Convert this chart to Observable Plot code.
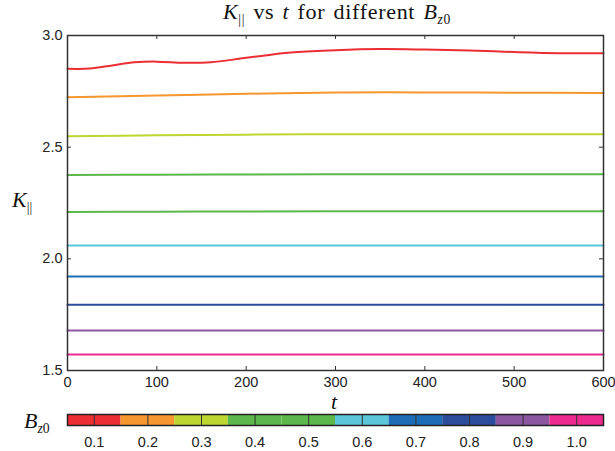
<!DOCTYPE html>
<html><head><meta charset="utf-8">
<script src="https://cdn.jsdelivr.net/npm/d3@7"></script>
<script src="https://cdn.jsdelivr.net/npm/@observablehq/plot@0.6"></script>
<style>
body{margin:0;background:#fff;}
#wrap{position:relative;width:615px;height:451px;overflow:hidden;font-family:"Liberation Sans",Arial,sans-serif;}
#wrap svg{display:block;}
.math{position:absolute;font-family:"Liberation Serif","DejaVu Serif",serif;color:#111;white-space:nowrap;line-height:1;}
.math sub{font-size:62%;vertical-align:-0.35em;line-height:0;}
</style></head><body>
<div id="wrap">
  <div id="main"></div>
  <div id="cbar"></div>
  <div class="math" id="title" style="left:0;width:615px;text-align:center;padding-left:59px;box-sizing:border-box;top:1px;font-size:22px;letter-spacing:0.7px;word-spacing:2px;"><i>K</i><sub>||</sub> vs <i>t</i> for different <i>B</i><sub><i>z</i>0</sub></div>
  <div class="math" style="left:12px;top:189px;font-size:22px;"><i>K</i><sub>||</sub></div>
  <div class="math" style="left:331px;top:391px;font-size:22px;"><i>t</i></div>
  <div class="math" style="left:24px;top:410px;font-size:22px;"><i>B</i><sub><i>z</i>0</sub></div>
</div>
<script>
const bzValues = [0.1, 0.2, 0.3, 0.4, 0.5, 0.6, 0.7, 0.8, 0.9, 1.0];
const bzColors = ["#ec2d33", "#f7962f", "#bed62f", "#5cb84b", "#5cb84b", "#5bc5d9", "#1c6db6", "#2b4c9c", "#8c56a1", "#ec2a8f"];

const tRed = [0, 25, 50, 75, 100, 130, 160, 200, 250, 300, 350, 400, 450, 500, 550, 600];
const kRed = [2.851, 2.852, 2.866, 2.880, 2.883, 2.878, 2.880, 2.900, 2.924, 2.934, 2.939, 2.937, 2.933, 2.926, 2.921, 2.921];

const tGrid = [0, 100, 200, 300, 400, 500, 600];
const k02 = [2.723, 2.731, 2.739, 2.745, 2.745, 2.744, 2.743];
const k03 = [2.549, 2.553, 2.556, 2.558, 2.558, 2.558, 2.558];
const k04 = [2.375, 2.377, 2.378, 2.379, 2.379, 2.379, 2.379];
const k05 = [2.210, 2.211, 2.212, 2.213, 2.213, 2.213, 2.213];
const k06 = [2.060, 2.060, 2.060, 2.060, 2.060, 2.060, 2.060];
const k07 = [1.921, 1.921, 1.921, 1.921, 1.921, 1.921, 1.921];
const k08 = [1.794, 1.794, 1.794, 1.794, 1.794, 1.794, 1.794];
const k09 = [1.679, 1.679, 1.679, 1.679, 1.679, 1.679, 1.679];
const k10 = [1.572, 1.572, 1.572, 1.572, 1.572, 1.572, 1.572];

const xTicks = [0, 100, 200, 300, 400, 500, 600];
const yTicks = [1.5, 2.0, 2.5, 3.0];

const series = [
  {bz: 0.1, t: tRed, k: kRed},
  {bz: 0.2, t: tGrid, k: k02},
  {bz: 0.3, t: tGrid, k: k03},
  {bz: 0.4, t: tGrid, k: k04},
  {bz: 0.5, t: tGrid, k: k05},
  {bz: 0.6, t: tGrid, k: k06},
  {bz: 0.7, t: tGrid, k: k07},
  {bz: 0.8, t: tGrid, k: k08},
  {bz: 0.9, t: tGrid, k: k09},
  {bz: 1.0, t: tGrid, k: k10}
];
const rows = series.flatMap(s => s.t.map((t, i) => ({bz: s.bz, t, K: s.k[i]})));

const color = {type: "ordinal", domain: bzValues, range: bzColors};
const FS = 14.5;
const style = {fontFamily: "Liberation Sans, Arial, sans-serif", fontSize: FS + "px", color: "#222", background: "white", overflow: "visible"};

const W = 615, H = 408, mT = 35, mR = 12, mB = 38, mL = 67;
const plotW = W - mL - mR, plotH = H - mT - mB, tk = 4;

const main = Plot.plot({
  width: W, height: H,
  marginTop: mT, marginRight: mR, marginBottom: mB, marginLeft: mL,
  x: {domain: [0, 600]},
  y: {domain: [1.5, 3.0]},
  color,
  style,
  marks: [
    Plot.line(rows, {x: "t", y: "K", z: "bz", stroke: "bz", strokeWidth: 2, curve: "catmull-rom"}),
    Plot.tickX(xTicks, {x: d => d, insetTop: plotH - tk, stroke: "#333", strokeWidth: 1}),
    Plot.tickX(xTicks, {x: d => d, insetBottom: plotH - tk, stroke: "#333", strokeWidth: 1}),
    Plot.tickY(yTicks, {y: d => d, insetRight: plotW - tk, stroke: "#333", strokeWidth: 1}),
    Plot.tickY(yTicks, {y: d => d, insetLeft: plotW - tk, stroke: "#333", strokeWidth: 1}),
    Plot.frame({stroke: "#333", strokeWidth: 1.5}),
    Plot.axisX({ticks: xTicks, anchor: "bottom", tickSize: 0, tickPadding: 5, tickFormat: "d", label: null, fontSize: FS, fill: "#222", dy: 1}),
    Plot.axisY({ticks: yTicks, anchor: "left", tickSize: 0, tickPadding: 5, tickFormat: ".1f", label: null, fontSize: FS, fill: "#222"})
  ]
});
document.getElementById("main").appendChild(main);

const half = 0.05;
const cbar = Plot.plot({
  width: W, height: 43,
  marginTop: 6, marginRight: mR, marginBottom: 26, marginLeft: mL,
  x: {domain: [bzValues[0] - half, bzValues[bzValues.length - 1] + half]},
  color,
  style,
  marks: [
    Plot.rect(bzValues, {x1: d => d - half, x2: d => d + half, fill: d => d}),
    Plot.ruleX(bzValues, {stroke: "#333", strokeWidth: 1}),
    Plot.frame({stroke: "#222", strokeWidth: 1.5}),
    Plot.axisX({ticks: bzValues, anchor: "bottom", tickSize: 0, tickPadding: 8, tickFormat: ".1f", label: null, fontSize: FS, fill: "#222", dy: 3})
  ]
});
document.getElementById("cbar").appendChild(cbar);
</script>
</body></html>
